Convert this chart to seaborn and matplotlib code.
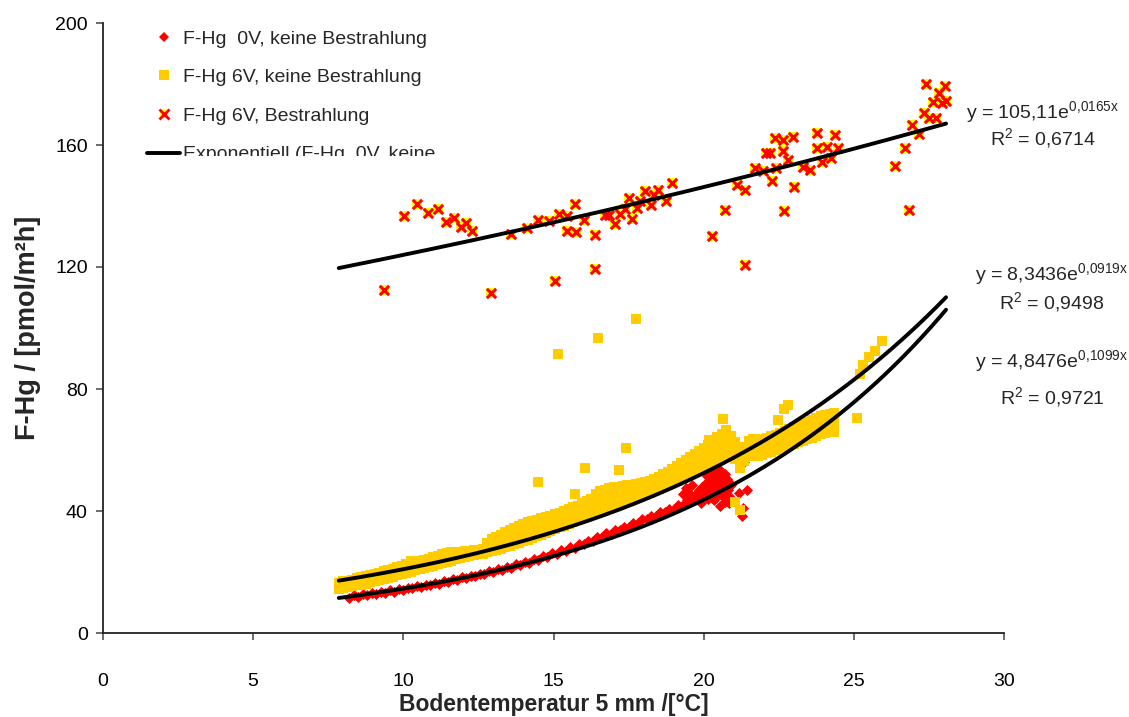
import numpy as np
import pandas as pd
import matplotlib
matplotlib.use("Agg")
import matplotlib.pyplot as plt
import seaborn as sns
from matplotlib.lines import Line2D
from matplotlib.legend_handler import HandlerTuple
from matplotlib.transforms import Bbox, TransformedBbox

# ---------------- data ----------------
# F-Hg 0V, keine Bestrahlung: main band
red_x = [8.2, 8.35, 8.5, 8.65, 8.8, 8.95, 9.1, 9.25, 9.4, 9.55, 9.7, 9.85,
         10.0, 10.15, 10.3, 10.45, 10.6, 10.75, 10.9, 11.05, 11.2, 11.35, 11.5,
         11.65, 11.8, 11.95, 12.1, 12.25, 12.4, 12.55, 12.7, 12.85, 13.0, 13.15,
         13.3, 13.45, 13.6, 13.75, 13.9, 14.05, 14.2, 14.35, 14.5, 14.65, 14.8,
         14.95, 15.1, 15.25, 15.4, 15.55, 15.7, 15.85, 16.0, 16.15, 16.3, 16.45,
         16.6, 16.75, 16.9, 17.05, 17.2, 17.35, 17.5, 17.65, 17.8, 17.95, 18.1,
         18.25, 18.4, 18.55, 18.7, 18.85, 19.0, 19.15, 19.3, 19.45, 19.6, 19.75]
red_y = [11.6, 12.3, 11.9, 12.8, 12.4, 13.1, 12.8, 13.5, 13.2, 14.0, 13.6, 14.4,
         14.1, 14.9, 14.6, 15.4, 15.1, 15.9, 15.6, 16.5, 16.2, 17.0, 16.8,
         17.6, 17.3, 18.2, 17.9, 18.8, 18.6, 19.5, 19.2, 20.2, 19.9, 20.9,
         20.7, 21.7, 21.4, 22.5, 22.3, 23.3, 23.1, 24.2, 24.0, 25.1, 24.9,
         26.1, 25.9, 27.1, 26.9, 28.1, 28.0, 29.2, 29.1, 30.3, 30.2, 31.5,
         31.4, 32.7, 32.6, 33.8, 33.7, 34.9, 34.9, 36.1, 36.1, 37.3, 37.3,
         38.5, 38.5, 39.7, 39.7, 40.8, 40.8, 41.9, 42.0, 43.0, 43.2, 44.2]
# F-Hg 0V, keine Bestrahlung: cluster around 20 degC and single values
red_blob_x = [19.3, 19.4, 19.5, 19.6, 19.7, 19.85, 19.9, 20.0, 20.05, 20.1, 20.15,
              20.2, 20.25, 20.3, 20.35, 20.4, 20.45, 20.5, 20.55, 20.6, 20.65,
              20.7, 20.75, 20.8, 20.85, 20.9, 20.55, 20.7, 20.85,
              20.12, 20.22, 20.32, 20.42, 20.52, 20.62, 20.72, 20.82,
              20.15, 20.25, 20.35, 20.45, 20.55, 20.65, 20.75,
              20.18, 20.28, 20.38, 20.48, 20.58, 20.68, 20.78,
              19.45, 19.55, 19.75, 19.95,
              21.16, 21.43, 21.32, 21.27, 21.49, 21.35]
red_blob_y = [45.5, 47.5, 46.0, 48.5, 44.0, 47.0, 42.5, 45.0, 49.0, 51.5, 44.0,
              47.0, 50.5, 53.0, 43.5, 48.0, 51.0, 45.5, 53.5, 49.5, 44.5,
              52.0, 47.0, 50.0, 45.0, 48.5, 41.5, 43.0, 42.5,
              46.0, 45.5, 46.5, 46.0, 47.0, 46.5, 45.5, 46.8,
              48.8, 49.2, 48.5, 49.5, 48.7, 49.0, 48.2,
              51.5, 52.2, 51.0, 52.5, 51.8, 51.2, 50.5,
              43.5, 42.8, 45.5, 48.0,
              45.8, 46.9, 40.9, 38.2, 61.7, 56.0]

# F-Hg 6V, keine Bestrahlung: band (lower / middle / upper values per temperature)
yel_band_x = [7.85, 8.0, 8.15, 8.3, 8.45, 8.6, 8.75, 8.9, 9.05, 9.2, 9.35, 9.5,
              9.65, 9.8, 9.95, 10.1, 10.25, 10.4, 10.55, 10.7, 10.85, 11.0, 11.15,
              11.3, 11.45, 11.6, 11.75, 11.9, 12.05, 12.2, 12.35, 12.5, 12.65,
              12.8, 12.95, 13.1, 13.25, 13.4, 13.55, 13.7, 13.85, 14.0, 14.15,
              14.3, 14.45, 14.6, 14.75, 14.9, 15.05, 15.2, 15.35, 15.5, 15.65,
              15.8, 15.95, 16.1, 16.25, 16.4, 16.55, 16.7, 16.85, 17.0, 17.15,
              17.3, 17.45, 17.6, 17.75, 17.9, 18.05, 18.2, 18.35, 18.5, 18.65,
              18.8, 18.95, 19.1, 19.25, 19.4, 19.55, 19.7, 19.85, 20.0, 20.15,
              20.3, 20.45, 20.6, 20.75, 20.9, 21.05, 21.2, 21.35, 21.5, 21.65,
              21.8, 21.95, 22.1, 22.25, 22.4, 22.55, 22.7, 22.85, 23.0, 23.15,
              23.3, 23.45, 23.6, 23.75, 23.9, 24.05, 24.2, 24.35]
yel_low = [14.5, 14.8, 15.0, 15.3, 15.6, 15.9, 16.2, 16.6, 17.0, 17.3, 17.7, 18.1,
           18.5, 18.9, 19.3, 19.7, 20.1, 20.5, 20.9, 21.3, 21.7, 22.1, 22.5,
           22.9, 23.3, 23.7, 24.1, 24.5, 24.9, 25.2, 25.5, 25.8, 26.0,
           26.4, 26.8, 27.2, 27.6, 28.1, 28.6, 29.1, 29.6, 30.1, 30.6,
           31.2, 31.7, 32.2, 32.8, 33.4, 34.0, 34.6, 35.2, 35.8, 36.4,
           37.0, 37.6, 38.2, 38.8, 39.4, 40.0, 40.6, 41.2, 41.8, 42.3,
           42.8, 43.3, 43.8, 44.3, 44.8, 45.4, 46.0, 46.6, 47.2, 47.9,
           48.6, 49.3, 50.0, 50.8, 51.6, 52.4, 53.2, 54.0, 54.8, 55.6,
           56.4, 57.2, 58.0, 58.8, 59.0, 57.0, 54.0, 56.5, 58.5, 58.0,
           58.0, 58.5, 59.0, 59.5, 60.0, 60.5, 61.0, 61.5, 62.0, 62.5,
           63.0, 63.5, 64.0, 64.6, 65.2, 65.6, 65.8, 66.0]
yel_mid = [15.5, 16.0, 16.2, 16.5, 16.8, 17.2, 17.5, 17.9, 18.2, 18.6, 19.0, 19.4,
           19.8, 20.2, 20.7, 21.1, 21.6, 22.0, 22.4, 22.8, 23.2, 23.6, 24.0,
           24.4, 24.8, 25.2, 25.5, 25.8, 26.0, 26.2, 26.4, 26.6, 27.0,
           28.0, 28.7, 29.4, 30.0, 30.6, 31.2, 31.8, 32.4, 33.0, 33.6,
           34.2, 34.8, 35.3, 35.9, 36.4, 37.0, 37.5, 38.1, 38.7, 39.3,
           39.9, 40.5, 41.1, 41.8, 42.5, 43.2, 43.8, 44.3, 44.8, 45.2,
           45.6, 46.0, 46.4, 46.8, 47.2, 47.7, 48.3, 48.9, 49.5, 50.2,
           51.0, 51.8, 52.6, 53.5, 54.4, 55.3, 56.2, 57.0, 57.8, 58.6,
           59.6, 60.6, 61.6, 62.4, 62.0, 60.0, 57.5, 59.0, 61.5, 62.0,
           60.5, 61.0, 61.5, 62.0, 62.6, 63.1, 63.6, 64.1, 64.6, 65.1,
           65.7, 66.2, 66.8, 67.4, 68.0, 68.5, 68.8, 69.0]
yel_high = [16.5, 17.0, 17.2, 17.5, 18.0, 18.3, 18.7, 19.0, 19.4, 19.8, 20.2, 20.6,
            21.1, 21.5, 22.0, 22.6, 23.5, 23.3, 23.6, 24.0, 24.4, 24.8, 25.2,
            25.8, 26.3, 26.5, 26.6, 26.7, 26.8, 27.0, 27.2, 27.3, 27.6,
            29.5, 30.8, 31.6, 32.2, 33.0, 33.8, 34.5, 35.2, 35.8, 36.3,
            36.8, 37.2, 37.6, 38.0, 38.5, 39.0, 39.5, 40.0, 40.6, 41.2,
            41.8, 42.5, 43.2, 44.0, 45.5, 46.5, 47.0, 47.4, 47.8, 48.0,
            48.2, 48.4, 48.6, 48.8, 49.1, 49.5, 50.0, 50.6, 51.2, 52.0,
            52.8, 53.7, 54.6, 55.6, 56.6, 57.6, 58.6, 59.6, 60.5, 61.8,
            63.0, 64.2, 65.4, 66.5, 64.5, 62.5, 60.0, 61.0, 63.0, 63.5,
            63.0, 63.5, 64.0, 64.5, 65.0, 65.6, 66.2, 66.8, 67.4, 68.0,
            68.6, 69.2, 69.8, 70.4, 71.0, 71.5, 71.8, 72.0]
# F-Hg 6V, keine Bestrahlung: single values off the band
yel_single_x = [14.47, 15.73, 16.05, 17.18, 17.43, 15.14, 16.47, 17.74, 20.18,
                20.66, 22.49, 22.69, 22.82, 25.10, 25.21, 25.30, 25.52, 25.72,
                25.94, 21.05, 21.21]
yel_single_y = [49.6, 45.7, 54.1, 53.4, 60.8, 91.4, 96.7, 102.9, 63.3,
                70.1, 69.8, 73.4, 74.9, 70.6, 84.9, 87.9, 90.5, 92.3,
                95.6, 43.1, 40.4]

# F-Hg 6V, Bestrahlung
cross_x = [9.37, 10.01, 10.47, 10.81, 11.15, 11.43, 11.68, 11.91, 12.08, 12.29,
           12.93, 13.59, 14.11, 14.50, 14.85, 15.05, 15.17, 15.46, 15.45, 15.72,
           15.75, 16.02, 16.38, 16.37, 16.73, 16.86, 17.05, 17.22, 17.37, 17.52,
           17.62, 17.78, 17.88, 18.03, 18.24, 18.33, 18.49, 18.74, 18.94, 20.27,
           20.71, 21.10, 21.39, 21.37, 21.70, 21.98, 22.07, 22.22, 22.27, 22.36,
           22.41, 22.63, 22.63, 22.67, 22.81, 22.97, 23.02, 23.30, 23.55, 23.77,
           23.79, 23.93, 24.10, 24.23, 24.37, 24.47, 26.36, 26.70, 26.85, 26.95,
           27.16, 27.33, 27.40, 27.50, 27.63, 27.72, 27.84, 27.93, 28.02, 28.07]
cross_y = [112.4, 136.7, 140.5, 137.6, 138.9, 134.8, 136.2, 133.2, 134.5, 131.8,
           111.5, 130.9, 132.7, 135.5, 135.1, 115.5, 137.3, 136.7, 131.7, 140.7,
           131.6, 135.4, 130.5, 119.3, 136.9, 137.1, 134.0, 137.5, 139.1, 142.5,
           135.6, 139.4, 141.5, 144.9, 140.2, 143.7, 145.3, 141.5, 147.4, 130.0,
           138.8, 146.9, 145.1, 120.7, 152.3, 151.4, 157.3, 157.3, 148.3, 162.4,
           152.3, 161.6, 158.0, 138.3, 155.2, 162.5, 146.2, 152.7, 151.7, 158.9,
           164.0, 154.5, 159.3, 155.8, 163.2, 159.1, 153.0, 159.1, 138.8, 166.7,
           163.6, 170.5, 180.0, 169.0, 174.1, 169.0, 177.1, 173.8, 179.5, 174.4]

# exponential trend lines y = a * exp(b * x)
fit_a = [4.8476, 8.3436, 105.11]
fit_b = [0.1099, 0.0919, 0.0165]
fit_r2 = ["0,9721", "0,9498", "0,6714"]
fit_a_txt = ["4,8476", "8,3436", "105,11"]
fit_b_txt = ["0{,}1099", "0{,}0919", "0{,}0165"]
trend_range = (7.85, 28.07)

series_labels = ["F-Hg  0V, keine Bestrahlung", "F-Hg 6V, keine Bestrahlung",
                 "F-Hg 6V, Bestrahlung", "Exponentiell (F-Hg  0V, keine"]

RED = "#FF0000"
GOLD = "#FFCC00"
YELLOW = "#FFFF00"

# ---------------- figure ----------------
sns.set_theme(style="white")
plt.rcParams["font.family"] = ["Liberation Sans", "DejaVu Sans"]
plt.rcParams["mathtext.default"] = "regular"

W, H = 1129, 717
fig = plt.figure(figsize=(W / 100, H / 100), dpi=100)
ax = fig.add_axes([103 / W, 84 / H, 901 / W, 610 / H])

red_df = pd.DataFrame({"x": red_x + red_blob_x, "y": red_y + red_blob_y})
yel_df = pd.DataFrame({
    "x": yel_band_x * 3 + yel_single_x,
    "y": yel_low + yel_mid + yel_high + yel_single_y,
})
cross_df = pd.DataFrame({"x": cross_x, "y": cross_y})

sns.scatterplot(data=red_df, x="x", y="y", marker="D", color=RED, s=32,
                linewidth=0, ax=ax, zorder=2)
sns.scatterplot(data=yel_df, x="x", y="y", marker="s", color=GOLD, s=50,
                linewidth=0, ax=ax, zorder=3)
sns.scatterplot(data=cross_df, x="x", y="y", marker="s", color=YELLOW, s=48,
                linewidth=0, ax=ax, zorder=4)
sns.scatterplot(data=cross_df, x="x", y="y", marker="x", color=RED, s=45,
                linewidth=2.2, ax=ax, zorder=5)

tx = np.linspace(trend_range[0], trend_range[1], 200)
for a, b in zip(fit_a, fit_b):
    sns.lineplot(x=tx, y=a * np.exp(b * tx), color="black", linewidth=2.8,
                 sort=False, estimator=None, ax=ax, zorder=6)

ax.set_xlim(0, 30)
ax.set_ylim(0, 200)
ax.set_xticks([0, 5, 10, 15, 20, 25, 30])
ax.set_yticks([0, 40, 80, 120, 160, 200])
for side in ["top", "right"]:
    ax.spines[side].set_visible(False)
for side in ["left", "bottom"]:
    ax.spines[side].set_color("#222222")
    ax.spines[side].set_linewidth(1.3)
ax.tick_params(axis="both", direction="out", length=5, width=1.1, color="#444444",
               labelsize=14, labelcolor="black")
ax.tick_params(axis="x", pad=24, bottom=True)
ax.tick_params(axis="y", pad=6, left=True)
ax.set_xlabel("Bodentemperatur 5 mm /[°C]", fontsize=16.5, fontweight="bold",
              labelpad=2)
ax.set_ylabel("F-Hg / [pmol/m²h]", fontsize=19.5, fontweight="bold", labelpad=10)
ax.grid(False)

# legend (no frame, cut off through the fourth entry)
h_red = Line2D([], [], linestyle="none", marker="D", markersize=5,
               markerfacecolor=RED, markeredgewidth=0)
h_yel = Line2D([], [], linestyle="none", marker="s", markersize=7,
               markerfacecolor=GOLD, markeredgewidth=0)
h_cr_bg = Line2D([], [], linestyle="none", marker="s", markersize=6,
                 markerfacecolor=YELLOW, markeredgewidth=0)
h_cr_fg = Line2D([], [], linestyle="none", marker="x", markersize=6.5,
                 markeredgecolor=RED, markeredgewidth=2.0)
h_line = Line2D([], [], color="black", linewidth=2.8)
leg = fig.legend([h_red, h_yel, (h_cr_bg, h_cr_fg), h_line], series_labels,
                 handler_map={tuple: HandlerTuple(ndivide=1)},
                 loc="upper left", bbox_to_anchor=(147 / W, 1 - 30 / H),
                 frameon=False, fontsize=14, handlelength=1.7,
                 handletextpad=0.15, labelspacing=1.08, borderpad=0,
                 borderaxespad=0)
clip = TransformedBbox(Bbox.from_extents(0, 1 - 156 / H, 1, 1), fig.transFigure)
for artist in list(leg.get_texts()) + list(leg.legend_handles):
    artist.set_clip_box(clip)
    artist.set_clip_on(True)

# trend equations at the right edge
eq_pos = [(1052, 361, 397), (1052, 274, 302), (1043, 112, 138)]
for (cx, y_eq, y_r2), a_t, b_t, r2 in zip(eq_pos, fit_a_txt, fit_b_txt, fit_r2):
    fig.text(cx / W, 1 - y_eq / H, "y = %se$^{%sx}$" % (a_t, b_t),
             ha="center", va="center", fontsize=14)
    fig.text(cx / W, 1 - y_r2 / H, "R$^{2}$ = %s" % r2,
             ha="center", va="center", fontsize=14)

fig.savefig("out.png", dpi=100, facecolor="white")
